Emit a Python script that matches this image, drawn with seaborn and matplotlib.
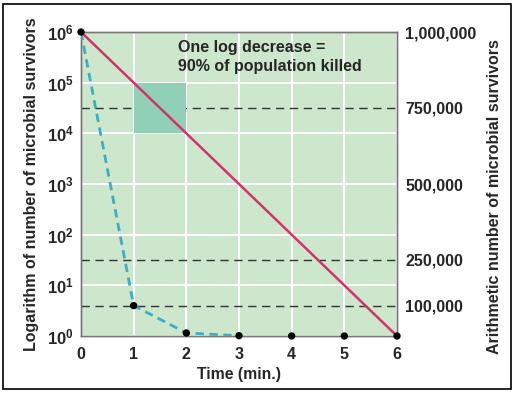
import numpy as np
import pandas as pd
import matplotlib.pyplot as plt
import matplotlib.patches as mpatches
import seaborn as sns

# datos
tiempo = [0, 1, 2, 3, 4, 5, 6]
sobrevivientes = [1e6, 1e5, 1e4, 1e3, 1e2, 1e1, 1e0]
decadas = [0, 1, 2, 3, 4, 5, 6]
ticks_aritmeticos = [100000, 250000, 500000, 750000, 1000000]
etiquetas_aritmeticas = ["100,000", "250,000", "500,000", "750,000", "1,000,000"]
lineas_guia = [100000, 250000, 750000]
# cuadro que marca una reducción logarítmica (x de 1 a 2, y de 10^5 a 10^4)
cuadro_x = [1, 2]
cuadro_y = [1e4, 1e5]

fondo = "#cde7cc"
verde_cuadro = "#8fd0b6"
magenta = "#d4326c"
cian = "#3aaec4"

sns.set_style("white")
plt.rcParams["font.family"] = ["Liberation Sans", "DejaVu Sans"]
plt.rcParams["font.weight"] = "bold"
plt.rcParams["mathtext.fontset"] = "custom"
plt.rcParams["mathtext.rm"] = "Liberation Sans:bold"
plt.rcParams["mathtext.bf"] = "Liberation Sans:bold"

df = pd.DataFrame({"tiempo": tiempo, "sobrevivientes": sobrevivientes})

fig = plt.figure(figsize=(5.2, 3.94), dpi=100)
ax = fig.add_axes([81 / 520, 1 - 336 / 394, 316 / 520, 304 / 394])
ax.set_yscale("log")
ax.set_xlim(0, 6)
ax.set_ylim(1, 1e6)
ax.set_facecolor(fondo)
ax.set_xticks(tiempo)
ax.set_yticks([10.0 ** d for d in decadas])
ax.set_yticklabels([r"$\mathbf{10^{%d}}$" % d for d in decadas])
ax.minorticks_off()
ax.grid(True, color="white", linewidth=1.4)
ax.set_axisbelow(True)

ax2 = ax.twinx()
ax2.set_ylim(0, 1000000)
ax2.set_yticks(ticks_aritmeticos)
ax2.set_yticklabels(etiquetas_aritmeticas)

# líneas de referencia discontinuas
for v in lineas_guia:
    ax2.axhline(v, color="#333333", linewidth=1, dashes=(6, 4), zorder=1)

# cuadro de una década
ax2.add_patch(mpatches.Rectangle((cuadro_x[0], cuadro_y[0]), cuadro_x[1] - cuadro_x[0],
                                 cuadro_y[1] - cuadro_y[0], transform=ax.transData,
                                 facecolor=verde_cuadro, edgecolor="none", zorder=2))

# recta logarítmica
sns.lineplot(data=df, x="tiempo", y="sobrevivientes", ax=ax2, color=magenta,
             linewidth=1.8, transform=ax.transData, zorder=3)

# curva aritmética
sns.lineplot(data=df.iloc[:4], x="tiempo", y="sobrevivientes", ax=ax2, color=cian,
             linewidth=2, dashes=False, zorder=4).lines[-1].set_dashes((3, 2))
sns.scatterplot(data=df, x="tiempo", y="sobrevivientes", ax=ax2, color="black",
                s=28, edgecolor="none", zorder=5, clip_on=False)

ax2.set_ylim(0, 1000000)
ax2.set_xlim(0, 6)

for a in (ax, ax2):
    for s in a.spines.values():
        s.set_color("#777777")
        s.set_linewidth(1)
    a.tick_params(length=0)

ax.tick_params(axis="y", pad=5, labelsize=12)
ax.tick_params(axis="x", pad=8, labelsize=11.5)
ax2.tick_params(axis="y", pad=6, labelsize=11.5)

ax.set_xlabel("Time (min.)", fontsize=11.3, fontweight="bold")
ax.xaxis.set_label_coords(0.5, -0.102)
ax.set_ylabel("Logarithm of number of microbial survivors", fontsize=11.5, fontweight="bold")
ax.yaxis.set_label_coords(-0.133, 0.5)
ax2.set_ylabel("Arithmetic number of microbial survivors", fontsize=11.5, fontweight="bold")
ax2.yaxis.set_label_coords(1.285, 0.46)
ax2.set_xlabel("")

ax.text(0.307, 0.975, "One log decrease =\n90% of population killed", transform=ax.transAxes,
        ha="left", va="top", fontsize=11.5, fontweight="bold", linespacing=1.35)

fig.add_artist(mpatches.Rectangle((3 / 520, 1 - 389 / 394), 508 / 520, 385 / 394,
                                  transform=fig.transFigure, fill=False,
                                  edgecolor="black", linewidth=1.2))

plt.savefig("out.png", dpi=100)
